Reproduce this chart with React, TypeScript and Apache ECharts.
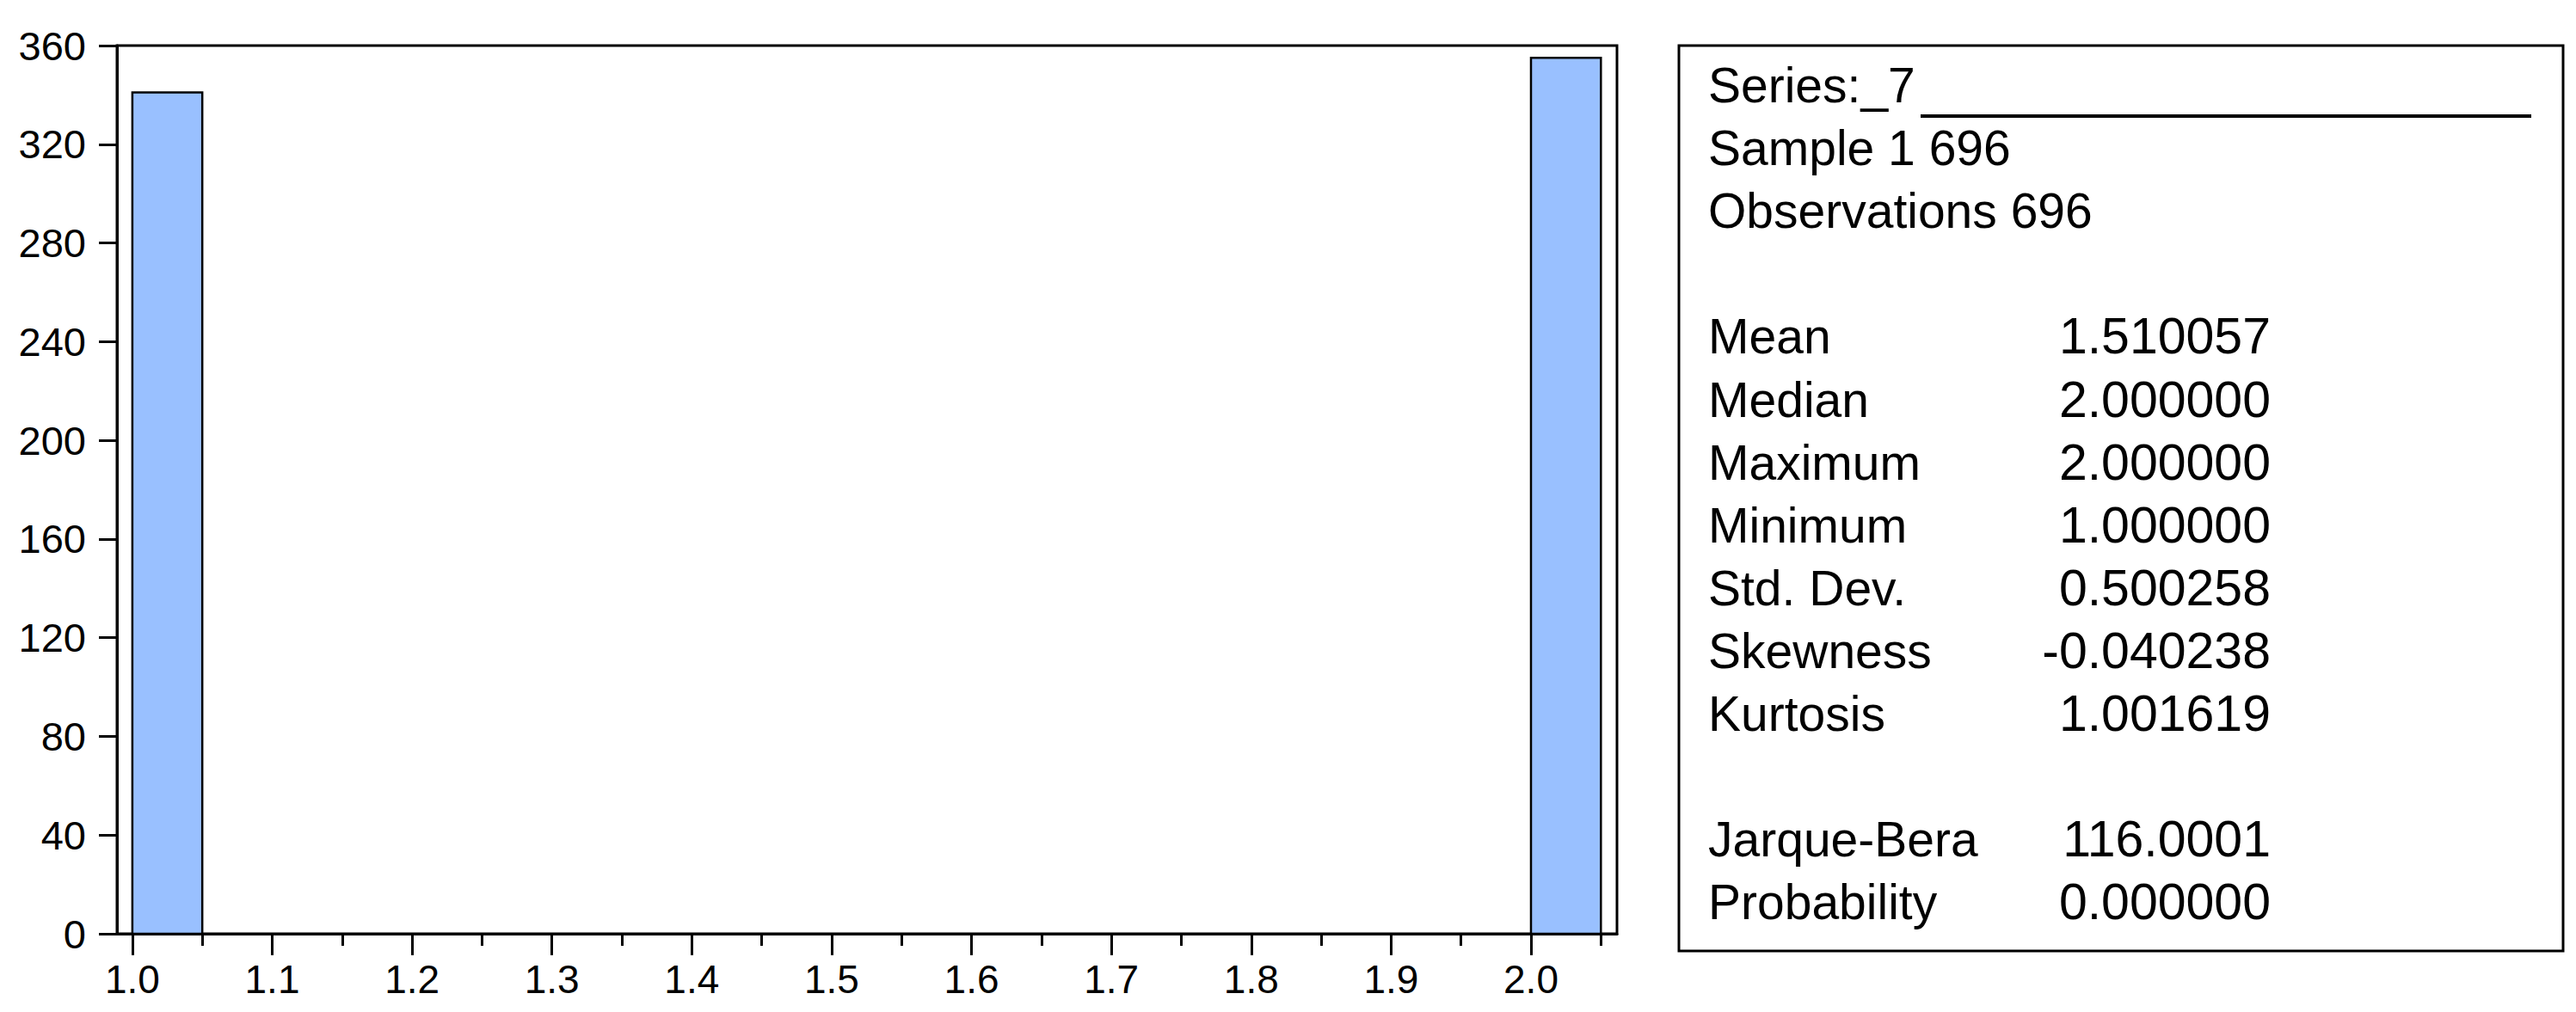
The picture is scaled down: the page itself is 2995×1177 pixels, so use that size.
import React, { useEffect, useRef } from "react";
import * as echarts from "echarts";

// ---- data ----
const binStarts = [1.0, 2.0];
const binWidth = 0.05;
const counts = [341, 355];

const xMajorTicks = ["1.0", "1.1", "1.2", "1.3", "1.4", "1.5", "1.6", "1.7", "1.8", "1.9", "2.0"];
const xMinorTicks = [1.05, 1.15, 1.25, 1.35, 1.45, 1.55, 1.65, 1.75, 1.85, 1.95, 2.05];
const yMin = 0;
const yMax = 360;
const yInterval = 40;

const seriesTitle = "Series:_7";
const headerLines = ["Sample 1 696", "Observations 696"];
const statLabels = ["Mean", "Median", "Maximum", "Minimum", "Std. Dev.", "Skewness", "Kurtosis"];
const statValues = ["1.510057", "2.000000", "2.000000", "1.000000", "0.500258", "-0.040238", "1.001619"];
const testLabels = ["Jarque-Bera", "Probability"];
const testValues = ["116.0001", "0.000000"];

const FONT = "'Liberation Sans', Arial, sans-serif";

export default function App() {
  const ref = useRef<HTMLDivElement>(null);

  useEffect(() => {
    document.body.style.margin = "0";
    const chart = echarts.init(ref.current!, null, { renderer: "svg" });

    const rowY = (i: number) => 99 + 73.1 * i;
    const labelX = 1986;
    const valueX = 2640;
    const textEl = (t: string, x: number, y: number, align: string, size: number) => ({
      type: "text",
      x,
      y,
      style: {
        text: t,
        font: `${size}px ${FONT}`,
        fill: "#000",
        align,
        verticalAlign: "middle",
      },
    });

    const graphics: any[] = [
      {
        type: "rect",
        shape: { x: 1952, y: 53, width: 1028, height: 1053 },
        style: { fill: "none", stroke: "#000", lineWidth: 3 },
      },
      {
        type: "line",
        shape: { x1: 2233, y1: 135, x2: 2943, y2: 135 },
        style: { stroke: "#000", lineWidth: 4 },
      },
      textEl(seriesTitle, labelX, rowY(0), "left", 57),
    ];
    headerLines.forEach((t, i) => graphics.push(textEl(t, labelX, rowY(i + 1), "left", 57)));
    statLabels.forEach((t, i) => {
      graphics.push(textEl(t, labelX, rowY(i + 4), "left", 57));
      graphics.push(textEl(statValues[i], valueX, rowY(i + 4), "right", 59));
    });
    testLabels.forEach((t, i) => {
      graphics.push(textEl(t, labelX, rowY(i + 12), "left", 57));
      graphics.push(textEl(testValues[i], valueX, rowY(i + 12), "right", 59));
    });

    const xMin = 0.989;
    const xMax = 2.0615;

    chart.setOption({
      animation: false,
      grid: {
        left: 136,
        top: 53,
        width: 1744,
        height: 1033,
        show: true,
        borderColor: "#000",
        borderWidth: 3,
        backgroundColor: "transparent",
      },
      xAxis: [
        {
          type: "value",
          min: xMin,
          max: xMax,
          position: "bottom",
          axisLine: { show: true, onZero: false, lineStyle: { color: "#000", width: 3 } },
          axisTick: {
            show: true,
            inside: false,
            length: 25,
            lineStyle: { color: "#000", width: 3 },
            customValues: xMajorTicks.map((s) => parseFloat(s)),
          },
          axisLabel: {
            show: true,
            color: "#000",
            fontFamily: FONT,
            fontSize: 46,
            margin: 30,
            customValues: xMajorTicks.map((s) => parseFloat(s)),
            formatter: (v: number) => v.toFixed(1),
          },
          splitLine: { show: false },
        },
        {
          type: "value",
          min: xMin,
          max: xMax,
          position: "bottom",
          axisLine: { show: false },
          axisTick: {
            show: true,
            inside: false,
            length: 14,
            lineStyle: { color: "#000", width: 3 },
            customValues: xMinorTicks,
          },
          axisLabel: { show: false },
          splitLine: { show: false },
        },
      ],
      yAxis: {
        type: "value",
        min: yMin,
        max: yMax,
        interval: yInterval,
        axisLine: { show: true, lineStyle: { color: "#000", width: 3 } },
        axisTick: { show: true, inside: false, length: 21, lineStyle: { color: "#000", width: 3 } },
        axisLabel: { color: "#000", fontFamily: FONT, fontSize: 47, margin: 36 },
        splitLine: { show: false },
      },
      series: [
        {
          type: "custom",
          xAxisIndex: 0,
          yAxisIndex: 0,
          data: binStarts.map((b, i) => [b, b + binWidth, counts[i]]),
          renderItem: (params: any, api: any) => {
            const p0 = api.coord([api.value(0), api.value(2)]);
            const p1 = api.coord([api.value(1), 0]);
            return {
              type: "rect",
              shape: { x: p0[0], y: p0[1], width: p1[0] - p0[0], height: p1[1] - p0[1] },
              style: { fill: "#99C0FF", stroke: "#000", lineWidth: 2.5 },
            };
          },
        },
      ],
      graphic: graphics,
    });

    return () => chart.dispose();
  }, []);

  return (
    <div
      ref={ref}
      style={{ position: "fixed", left: 0, top: 0, width: 2995, height: 1177, background: "#fff" }}
    />
  );
}
